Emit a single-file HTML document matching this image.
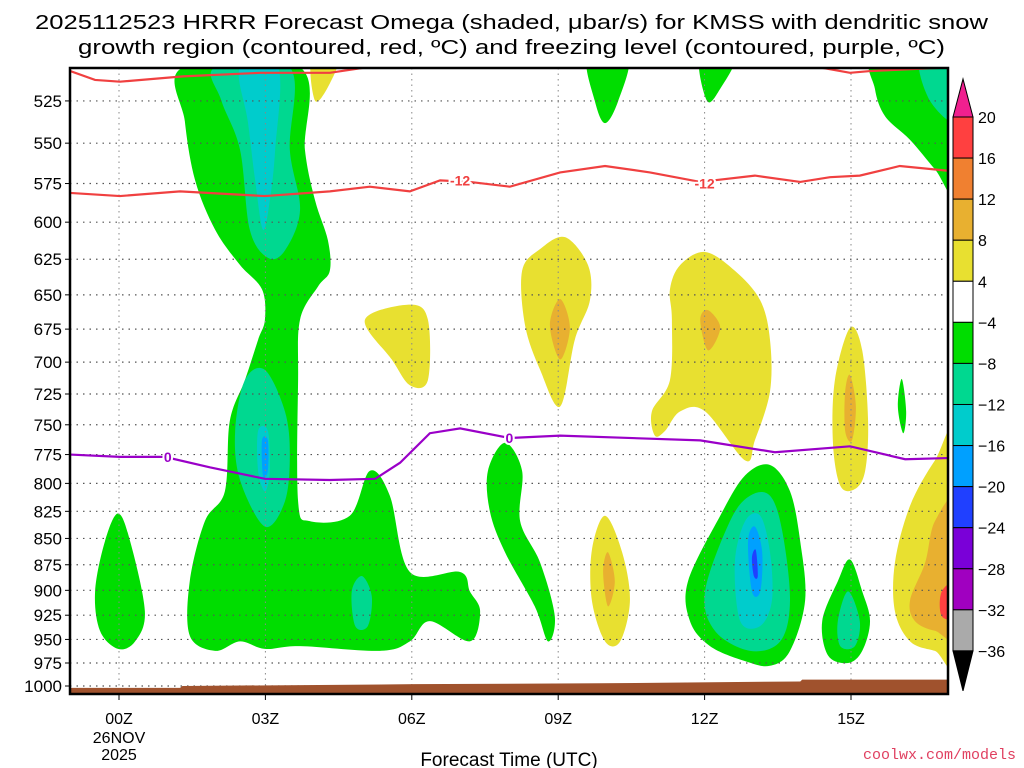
<!DOCTYPE html>
<html><head><meta charset="utf-8"><style>
html,body{margin:0;padding:0;background:#fff;}
svg{display:block;font-family:"Liberation Sans","DejaVu Sans",sans-serif;}
</style></head><body>
<svg id="chart" width="1024" height="768" viewBox="0 0 1024 768" xmlns="http://www.w3.org/2000/svg">
<defs><clipPath id="plotclip"><rect x="70" y="68" width="878" height="626"/></clipPath></defs>
<text x="35" y="29" font-size="20" textLength="953" lengthAdjust="spacingAndGlyphs">2025112523 HRRR Forecast Omega (shaded, μbar/s) for KMSS with dendritic snow</text>
<text x="78" y="54" font-size="20" textLength="867" lengthAdjust="spacingAndGlyphs">growth region (contoured, red, ºC) and freezing level (contoured, purple, ºC)</text>
<g id="plot"></g>
<g id="axes"></g>
<g id="cbar"></g>
<text x="509" y="766" font-size="19" text-anchor="middle">Forecast Time (UTC)</text>
<text x="1016" y="759" font-size="15" text-anchor="end" fill="#e04060" font-family="Liberation Mono, monospace">coolwx.com/models</text>
</svg>
<script>
// ---- data ----
const pressureTicks=[525,550,575,600,625,650,675,700,725,750,775,800,825,850,875,900,925,950,975,1000];
const timeTicks=[0,3,6,9,12,15];
const timeLabels=["00Z","03Z","06Z","09Z","12Z","15Z"];
const cbarLevels=["20","16","12","8","4","\u22124","\u22128","\u221212","\u221216","\u221220","\u221224","\u221228","\u221232","\u221236"];
const cbarColors=["#ff4040","#f08030","#e8b030","#e8e030","#ffffff","#00dd00","#00d890","#00cccc","#00a0ff","#2040ff","#7a00d8","#a000c0","#aaaaaa"];
const G="#00dd00",T="#00d890",C="#00cccc",B="#00a0ff",DB="#2040ff",Y="#e8e030",O="#e8b030",R="#ff4040";
// omega regions: [color, [hour, hPa] vertices]
const greenMain=[[1.31,506],[3.71,506],[3.81,554],[4.02,586],[4.28,612],[4.32,633],[4.08,644],[3.71,668],[3.67,714],[3.67,816],[3.91,834],[4.73,829],[5.14,789],[5.55,811],[5.96,882],[6.99,882],[7.19,901],[7.40,921],[7.19,952],[6.37,931],[5.96,952],[5.35,962],[3.71,957],[2.99,960],[2.48,952],[1.97,962],[1.45,946],[1.45,891],[1.76,834],[2.17,807],[2.27,747],[2.58,714],[2.85,683],[2.99,668],[2.93,646],[2.48,629],[1.97,605],[1.56,573],[1.35,537]];
const tealUpper=[[1.97,506],[3.5,506],[3.5,554],[3.71,592],[3.4,619],[3.05,624],[2.68,605],[2.48,554],[2.1,525]];
const cyanUpper=[[2.48,506],[3.26,506],[3.2,554],[3.09,586],[2.95,605],[2.79,573],[2.64,537]];
const tealLower=[[2.58,714],[2.99,706],[3.4,739],[3.5,775],[3.4,816],[2.99,839],[2.48,797],[2.38,755]];
const cyanLower=[[2.85,755],[3.05,755],[3.09,789],[2.99,807],[2.85,789]];
const blueLower=[[2.93,763],[3.05,763],[3.05,789],[2.95,793]];
const tealSmall=[[4.77,901],[4.98,886],[5.18,906],[5.10,936],[4.84,936]];
const greenLeft=[[-0.49,901],[-0.29,853],[-0.02,827],[0.23,853],[0.53,921],[0.33,952],[-0.02,960],[-0.39,941]];
const green08=[[7.56,789],[7.91,765],[8.26,789],[8.22,834],[8.63,873],[8.93,926],[8.79,952],[8.52,916],[7.91,863],[7.6,825]];
const yellow05=[[5.04,668],[5.96,657],[6.33,668],[6.33,714],[5.96,718],[5.59,698]];
const yellow09=[[8.26,633],[8.63,618],[9.14,610],[9.61,629],[9.65,654],[9.34,683],[9.04,735],[8.63,706],[8.32,672]];
const orange09=[[8.83,672],[9.04,653],[9.24,674],[9.04,698]];
const yellow10=[[9.69,861],[9.96,829],[10.31,863],[10.47,910],[10.27,952],[9.96,952],[9.69,910]];
const orange10=[[9.92,882],[10.02,863],[10.16,891],[10.02,916]];
const yellow12=[[11.29,646],[11.5,629],[12.01,620],[12.62,633],[13.14,654],[13.34,683],[13.34,723],[13.03,763],[12.83,780],[12.01,739],[11.5,739],[11.19,755],[10.98,759],[10.92,739],[11.29,714],[11.33,668]];
const orange12=[[11.91,668],[12.07,661],[12.32,674],[12.07,691]];
const green13=[[11.66,891],[12.32,829],[12.83,793],[13.34,784],[13.75,807],[13.96,853],[14.06,910],[13.75,962],[13.34,978],[12.83,973],[12.11,957],[11.7,931]];
const teal13=[[12.01,901],[12.52,834],[12.93,811],[13.34,811],[13.59,843],[13.75,910],[13.55,952],[12.93,962],[12.21,941]];
const cyan13=[[12.62,873],[12.83,834],[13.14,829],[13.34,863],[13.38,910],[13.14,936],[12.73,931]];
const blue13=[[12.89,853],[13.03,839],[13.18,863],[13.14,901],[12.97,901]];
const dblue13=[[12.97,868],[13.05,861],[13.09,886],[13.01,886]];
const green15=[[14.41,931],[14.73,891],[14.98,870],[15.23,901],[15.39,931],[15.23,962],[14.94,975],[14.53,967]];
const teal15=[[14.73,931],[14.94,901],[15.18,931],[15.08,957],[14.78,957]];
const yellow15=[[14.67,714],[14.98,674],[15.23,691],[15.35,747],[15.29,789],[15.08,805],[14.78,802],[14.63,765]];
const orange15=[[14.88,723],[14.98,710],[15.1,735],[15.02,763],[14.88,755]];
const green16=[[15.96,735],[16.04,713],[16.13,739],[16.07,757]];
const yellowRight=[[15.9,873],[16.21,820],[16.72,780],[17.2,757],[17.2,967],[16.72,962],[16.21,952],[15.9,921]];
const orangeRight=[[16.21,910],[16.52,873],[16.72,834],[17.2,816],[17.2,941],[16.72,941],[16.31,931]];
const redRight=[[16.86,901],[17.2,891],[17.2,926],[16.86,926]];
const greenTopRight=[[15.49,500],[17.2,500],[17.2,582],[16.72,566],[16.21,548],[15.7,534],[15.49,518]];
const tealTopRight=[[16.41,500],[17.2,500],[17.2,537],[16.62,525]];
const green10Top=[[9.61,500],[10.43,500],[10.23,525],[9.96,538],[9.75,525]];
const green12Top=[[11.91,500],[12.62,500],[12.32,518],[12.05,525]];
const yellow04Top=[[3.95,500],[4.49,500],[4.32,515],[4.02,525]];
const regions=[[G,greenMain,"omega-green-main"],[T,tealUpper,"omega-teal-upper"],[C,cyanUpper,"omega-cyan-upper"],[T,tealLower,"omega-teal-lower"],[C,cyanLower,"omega-cyan-lower"],[B,blueLower,"omega-blue-lower"],[T,tealSmall,"omega-teal-small"],[G,greenLeft,"omega-green-left"],[G,green08,"omega-green-08z"],[Y,yellow05,"omega-yellow-05z"],[Y,yellow09,"omega-yellow-09z"],[O,orange09,"omega-orange-09z"],[Y,yellow10,"omega-yellow-10z"],[O,orange10,"omega-orange-10z"],[Y,yellow12,"omega-yellow-12z"],[O,orange12,"omega-orange-12z"],[G,green13,"omega-green-13z"],[T,teal13,"omega-teal-13z"],[C,cyan13,"omega-cyan-13z"],[B,blue13,"omega-blue-13z"],[DB,dblue13,"omega-darkblue-13z"],[G,green15,"omega-green-15z"],[T,teal15,"omega-teal-15z"],[Y,yellow15,"omega-yellow-15z"],[O,orange15,"omega-orange-15z"],[G,green16,"omega-green-16z"],[Y,yellowRight,"omega-yellow-right"],[O,orangeRight,"omega-orange-right"],[R,redRight,"omega-red-right"],[G,greenTopRight,"omega-green-top-right"],[T,tealTopRight,"omega-teal-top-right"],[G,green10Top,"omega-green-10z-top"],[G,green12Top,"omega-green-12z-top"],[Y,yellow04Top,"omega-yellow-04z-top"]];
const dgzTop1=[[-1,508],[-0.49,513],[0.02,514],[1.31,511],[2.89,509],[4.32,509],[5.55,504]];
const dgzTop2=[[13.96,504],[14.98,509],[15.39,508],[17,506]];
const dgzMid=[[-1,581],[0.02,583],[1.25,580],[2.99,583],[4.32,580],[5.14,577],[5.96,580],[6.58,573],[7.19,574],[8.01,577],[9.04,568],[9.96,564],[10.88,568],[11.91,574],[13.03,570],[13.96,574],[14.57,571],[15.18,570],[16.0,564],[17,567]];
const freezing=[[-1,775],[0.02,777],[0.94,777],[1.86,786],[2.99,796],[4.32,797],[5.25,796],[5.76,782],[6.37,757],[6.99,753],[8.01,761],[9.04,759],[11.91,763],[13.44,773],[14.98,768],[16.11,779],[17,778]];
const dgzLabels=[[6.99,573,"-12"],[12.0,575,"-12"]];
const fzLabels=[[1.0,777,"0"],[8.0,761,"0"]];
const terrain=[[-1,1002],[1.25,1002],[1.3,1000],[6.07,998],[9.86,997],[13.96,995],[14.0,993],[17,993]];

// ---- scales ----
const X0=70,X1=948,Y0=68,Y1=694;
const xs=h=>119+(h)*48.8;
const ys=p=>686-908*Math.log(1000/p);
const NS="http://www.w3.org/2000/svg";
function mk(tag,attrs,parent){const e=document.createElementNS(NS,tag);for(const k in attrs)e.setAttribute(k,attrs[k]);parent.appendChild(e);return e;}
function smoothClosed(pts){const P=pts.map(q=>[xs(q[0]),ys(q[1])]);const n=P.length;let d=`M${P[0][0]},${P[0][1]}`;for(let i=0;i<n;i++){const p0=P[(i-1+n)%n],p1=P[i],p2=P[(i+1)%n],p3=P[(i+2)%n];const c1=[p1[0]+(p2[0]-p0[0])/6,p1[1]+(p2[1]-p0[1])/6],c2=[p2[0]-(p3[0]-p1[0])/6,p2[1]-(p3[1]-p1[1])/6];d+=`C${c1[0]},${c1[1]} ${c2[0]},${c2[1]} ${p2[0]},${p2[1]}`;}return d+"Z";}
function lineD(pts){return pts.map((q,i)=>(i?"L":"M")+xs(q[0])+","+ys(q[1])).join("");}

const plot=document.getElementById('plot');
const clipped=mk('g',{'clip-path':'url(#plotclip)'},plot);
regions.forEach(r=>{const e=mk('path',{d:smoothClosed(r[1]),fill:r[0]},clipped);

});
// grid
pressureTicks.forEach(p=>{const e=mk('line',{x1:X0,x2:X1,y1:ys(p),y2:ys(p),stroke:'#555','stroke-width':1.2,'stroke-dasharray':'1.5,5'},clipped);

});
timeTicks.forEach(t=>{const e=mk('line',{x1:xs(t),x2:xs(t),y1:Y0,y2:Y1,stroke:'#888','stroke-width':1,'stroke-dasharray':'1.5,4'},clipped);

});
// terrain
{const pts=terrain.concat([[17,1010],[-1,1010]]);const e=mk('path',{d:lineD(pts)+"Z",fill:'#a0522d'},clipped);

}
// lines
[[dgzTop1,'#f04040','dgz-contour-top-a'],[dgzTop2,'#f04040','dgz-contour-top-b'],[dgzMid,'#f04040','dgz-contour-minus12'],[freezing,'#9a00c8','freezing-level-contour']].forEach(l=>{const e=mk('path',{d:lineD(l[0]),fill:'none',stroke:l[1],'stroke-width':2.2},clipped);

});
dgzLabels.forEach(l=>{const t=mk('text',{x:xs(l[0]),y:ys(l[1])+5,'font-size':14,'font-weight':'bold','text-anchor':'middle',fill:'#f04040',stroke:'#fff','stroke-width':4,'paint-order':'stroke'},clipped);t.textContent=l[2];

});
fzLabels.forEach(l=>{const t=mk('text',{x:xs(l[0]),y:ys(l[1])+5,'font-size':14,'font-weight':'bold','text-anchor':'middle',fill:'#9a00c8',stroke:'#fff','stroke-width':4,'paint-order':'stroke'},clipped);t.textContent=l[2];

});
// axes
const axes=document.getElementById('axes');
{const e=mk('rect',{x:X0,y:Y0,width:X1-X0,height:Y1-Y0,fill:'none',stroke:'#000','stroke-width':2.5},axes);

}
pressureTicks.forEach(p=>{mk('line',{x1:X0-5,x2:X0,y1:ys(p),y2:ys(p),stroke:'#000','stroke-width':1},axes);
const t=mk('text',{x:X0-8,y:ys(p)+6,'font-size':17,'text-anchor':'end'},axes);t.textContent=p;

});
timeTicks.forEach((tk,i)=>{mk('line',{x1:xs(tk),x2:xs(tk),y1:Y1,y2:Y1+6,stroke:'#000','stroke-width':1},axes);
const t=mk('text',{x:xs(tk),y:724,'font-size':16,'text-anchor':'middle'},axes);t.textContent=timeLabels[i];

});
{const t=mk('text',{x:xs(0),y:743,'font-size':16,'text-anchor':'middle'},axes);t.textContent="26NOV";


const t2=mk('text',{x:xs(0),y:760,'font-size':16,'text-anchor':'middle'},axes);t2.textContent="2025";

}
// colorbar
const cb=document.getElementById('cbar');
const CX=953,CW=20,CT=117,CS=41.07;
{const e=mk('polygon',{points:`${CX},${CT} ${CX+CW},${CT} ${CX+CW/2},${CT-38}`,fill:'#f0208f',stroke:'#000','stroke-width':1},cb);

}
cbarColors.forEach((c,i)=>{const e=mk('rect',{x:CX,y:CT+i*CS,width:CW,height:CS,fill:c,stroke:'#000','stroke-width':1},cb);

});
{const yb=CT+cbarColors.length*CS;const e=mk('polygon',{points:`${CX},${yb} ${CX+CW},${yb} ${CX+CW/2},${yb+40}`,fill:'#000',stroke:'#000','stroke-width':1},cb);

}
cbarLevels.forEach((l,i)=>{const t=mk('text',{x:978,y:CT+i*CS+6,'font-size':16},cb);t.textContent=l;

});
</script>
</body></html>
